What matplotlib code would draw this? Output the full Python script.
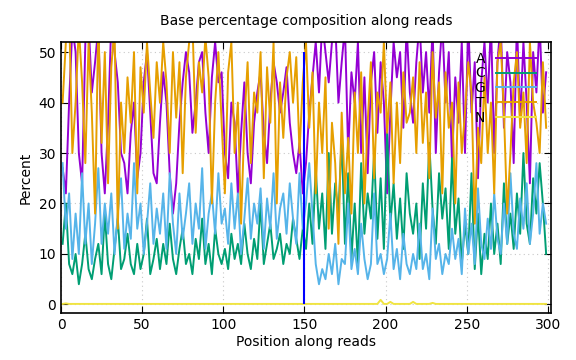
import matplotlib
matplotlib.use("Agg")
import matplotlib.pyplot as plt
import numpy as np

positions = list(range(1, 300, 2))

A = [27, 22, 40, 55, 50, 30, 24, 52, 56, 42,
     48, 55, 30, 22, 36, 56, 50, 44, 30, 28,
     22, 34, 40, 25, 30, 44, 50, 38, 26, 24,
     36, 46, 40, 26, 18, 24, 36, 44, 50, 46,
     34, 40, 48, 50, 38, 30, 45, 52, 44, 46,
     30, 25, 40, 36, 22, 34, 44, 30, 24, 36,
     42, 46, 34, 28, 40, 48, 44, 38, 42, 47,
     36, 30, 26, 32, 22, 28, 38, 45, 52, 42,
     56, 50, 44, 52, 56, 40, 48, 55, 30, 46,
     40, 52, 30, 45, 26, 44, 50, 34, 48, 40,
     22, 38, 52, 45, 50, 35, 55, 42, 36, 48,
     56, 42, 50, 38, 55, 30, 46, 56, 40, 50,
     28, 45, 36, 52, 30, 56, 38, 48, 25, 44,
     52, 40, 56, 30, 48, 56, 35, 50, 44, 28,
     56, 36, 52, 40, 24, 50, 42, 56, 38, 46]

C = [12, 20, 8, 6, 10, 4, 8, 14, 7, 5,
     9, 12, 6, 18, 8, 5, 11, 17, 7, 9,
     14, 8, 6, 12, 7, 10, 17, 6, 9, 13,
     7, 12, 8, 16, 9, 6, 11, 15, 8, 10,
     6, 13, 9, 17, 8, 12, 6, 15, 10, 8,
     11, 7, 14, 9, 12, 8, 16, 10, 7, 13,
     9, 20, 8, 12, 16, 9, 11, 14, 8, 12,
     10, 17, 13, 9, 15, 11, 20, 12, 27, 15,
     22, 11, 30, 14, 24, 18, 33, 12, 26, 9,
     20, 8, 28, 14, 22, 17, 30, 13, 25, 11,
     34, 16, 24, 13, 21, 11, 26, 18, 14, 20,
     9, 24, 15, 32, 19, 12, 26, 17, 23, 11,
     29, 14, 21, 8, 16, 10, 26, 7, 18, 6,
     14, 9, 20, 10, 16, 8, 24, 12, 18, 11,
     22, 14, 30, 16, 12, 25, 18, 28, 20, 10]

G = [28, 15, 22, 9, 18, 10, 26, 12, 20, 8,
     16, 27, 12, 20, 14, 22, 10, 18, 25, 11,
     18, 13, 28, 15, 20, 10, 16, 24, 12, 19,
     14, 22, 11, 26, 16, 10, 22, 13, 18, 24,
     12, 20, 15, 27, 11, 18, 22, 14, 26, 16,
     19, 12, 24, 15, 22, 10, 17, 25, 13, 20,
     16, 23, 11, 21, 15, 26, 13, 19, 22, 14,
     24, 17, 12, 26, 15, 20, 28, 18, 8, 4,
     7, 5, 10, 6, 12, 4, 9, 8, 20, 7,
     11, 6, 16, 9, 5, 8, 22, 8, 10, 6,
     9, 18, 7, 11, 5, 14, 8, 6, 10, 7,
     16, 7, 10, 5, 19, 9, 12, 6, 10, 8,
     15, 9, 13, 6, 19, 10, 16, 8, 23, 12,
     9, 17, 11, 22, 13, 10, 20, 12, 26, 14,
     11, 21, 15, 24, 12, 18, 28, 14, 20, 16]

T = [40, 52, 58, 30, 40, 55, 44, 28, 52, 38,
     18, 56, 32, 50, 24, 47, 55, 15, 40, 30,
     45, 36, 50, 22, 47, 38, 52, 42, 33, 48,
     40, 52, 44, 30, 50, 37, 48, 26, 45, 52,
     56, 34, 48, 42, 53, 45, 20, 40, 50, 36,
     22, 46, 52, 30, 40, 16, 36, 48, 28, 42,
     38, 50, 25, 47, 36, 52, 20, 44, 33, 45,
     50, 40, 49, 30, 44, 52, 35, 46, 22, 40,
     30, 45, 15, 36, 28, 12, 38, 22, 33, 18,
     42, 30, 46, 20, 36, 48, 25, 42, 38, 52,
     34, 44, 24, 40, 28, 46, 36, 38, 45, 30,
     48, 32, 42, 25, 50, 37, 44, 22, 46, 35,
     40, 20, 44, 30, 38, 48, 42, 16, 35, 28,
     45, 30, 40, 22, 48, 52, 38, 18, 30, 44,
     50, 35, 42, 28, 52, 40, 36, 30, 48, 35]

N = [0.1, 0.2, 0.1, 0.1, 0.1, 0.1, 0.1, 0.1, 0.1, 0.1,
     0.1, 0.1, 0.1, 0.1, 0.1, 0.1, 0.1, 0.1, 0.1, 0.1,
     0.1, 0.1, 0.1, 0.1, 0.1, 0.1, 0.1, 0.1, 0.1, 0.1,
     0.1, 0.1, 0.1, 0.1, 0.1, 0.1, 0.1, 0.1, 0.1, 0.1,
     0.1, 0.1, 0.1, 0.1, 0.1, 0.1, 0.1, 0.1, 0.1, 0.1,
     0.1, 0.1, 0.1, 0.1, 0.1, 0.1, 0.1, 0.1, 0.1, 0.1,
     0.1, 0.1, 0.1, 0.1, 0.1, 0.1, 0.1, 0.1, 0.1, 0.1,
     0.1, 0.1, 0.1, 0.1, 0.1, 0.1, 0.1, 0.1, 0.1, 0.1,
     0.1, 0.1, 0.1, 0.1, 0.1, 0.1, 0.1, 0.1, 0.1, 0.1,
     0.1, 0.1, 0.1, 0.1, 0.1, 0.1, 0.1, 0.1, 0.9, 0.1,
     0.1, 0.5, 0.1, 0.1, 0.1, 0.1, 0.1, 0.1, 0.5, 0.1,
     0.1, 0.1, 0.1, 0.1, 0.3, 0.1, 0.1, 0.1, 0.1, 0.1,
     0.1, 0.1, 0.1, 0.1, 0.1, 0.1, 0.1, 0.1, 0.1, 0.1,
     0.1, 0.1, 0.1, 0.1, 0.1, 0.1, 0.1, 0.1, 0.1, 0.1,
     0.1, 0.1, 0.1, 0.1, 0.1, 0.1, 0.1, 0.1, 0.1, 0.1]

series_names = ["A", "C", "G", "T", "N"]
series_colors = ["#9400d3", "#009e73", "#56b4e9", "#e69f00", "#f0e442"]
marker_pos = 150
marker_range = (0, 50)
x_ticks = [0, 50, 100, 150, 200, 250, 300]
y_ticks = [0, 10, 20, 30, 40, 50]

fig = plt.figure(figsize=(5.76, 3.6), dpi=100)
ax = fig.add_axes([61/576, 1 - 313/360, 490/576, (313 - 42)/360])

for name, vals, col in zip(series_names, [A, C, G, T, N], series_colors):
    ax.plot(positions, vals, color=col, lw=1.4, label=name)

ax.vlines(marker_pos, marker_range[0], marker_range[1], color="#0000ff", lw=1.5, zorder=5)

ax.set_xlim(0, 302)
ax.set_ylim(-1.7, 52)
ax.set_xticks(x_ticks)
ax.set_yticks(y_ticks)
ax.grid(True, color="#c8c8c8", linestyle=(0, (1, 3)), lw=0.8)
ax.tick_params(direction="in", top=True, right=True, length=5, labelsize=10, width=0.8)
for s in ax.spines.values():
    s.set_linewidth(1.2)

ax.set_title("Base percentage composition along reads", fontsize=10, pad=12)
ax.set_xlabel("Position along reads", fontsize=10, labelpad=2)
ax.set_ylabel("Percent", fontsize=10, labelpad=4)

leg = ax.legend(loc="upper right", bbox_to_anchor=(0.99, 1.0), frameon=False,
                markerfirst=False, handlelength=2.9, labelspacing=0.05,
                fontsize=10, handletextpad=0.8, borderaxespad=0.3)

fig.savefig("out.png", dpi=100)
